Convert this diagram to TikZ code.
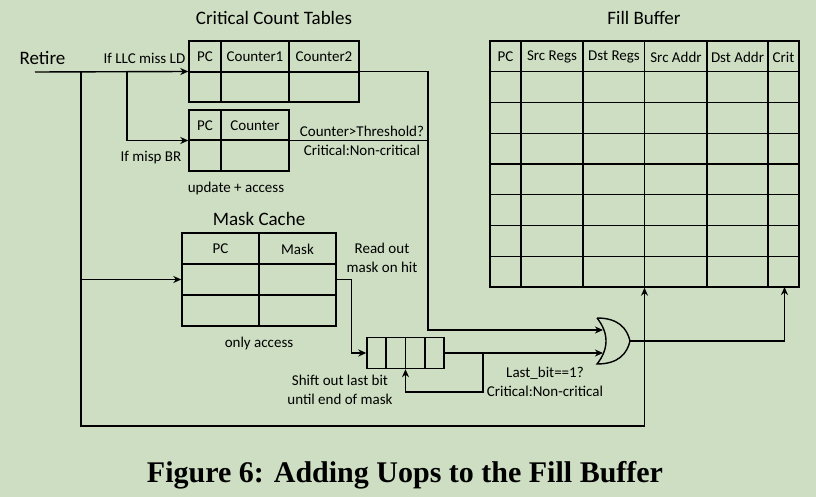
\documentclass[tikz,border=0pt]{standalone}
\usepackage{fontspec}
\setmainfont{Carlito}
\newfontfamily\capfont{Liberation Serif}
\usetikzlibrary{arrows.meta,calc,positioning}
\definecolor{bgreen}{RGB}{206,222,194}

\begin{document}
\begin{tikzpicture}[x=1pt,y=-1pt,line width=1.4pt,
	lbl/.style={font=\fontsize{15}{19}\selectfont,inner sep=0pt,align=center},
	ttl/.style={font=\fontsize{19}{23}\selectfont,inner sep=0pt},
	tbl/.style={draw,inner sep=0pt},
	arr/.style={-{Stealth[length=8pt,width=7pt,inset=2.5pt]}}]
					\useasboundingbox (0,0) rectangle (816,497);
					\fill[bgreen] (0,0) rectangle (816,497);
					%TABLES
					\node[tbl,minimum width=170,minimum height=61] (cnt1) at (274,71.5) {};
					\draw (189,72) -- (359,72) (221,41) -- (221,102) (289,41) -- (289,102);
					\node[tbl,minimum width=100,minimum height=61] (cnt2) at (239,140.5) {};
					\draw (189,140) -- (289,140) (221,110) -- (221,171);
					\node[tbl,minimum width=154,minimum height=93] (mask) at (259,279.5) {};
					\draw (182,264) -- (336,264) (182,295) -- (336,295) (259,233) -- (259,326);
					\node[tbl,minimum width=77,minimum height=31] (shift) at (405.5,353) {};
					\foreach \x in {386,405.5,425} \draw (\x,337.5) -- (\x,368.5);
					\node[tbl,minimum width=309,minimum height=246] (fill) at (644.5,164) {};
					\foreach \x in {521,583,644.5,707,768} \draw (\x,41) -- (\x,287);
					\foreach \i in {1,...,7} \draw (490,41+30.75*\i) -- (799,41+30.75*\i);
					%HEADERS
					\foreach \x/\t in {205/PC,255/Counter1,324/Counter2} \node[lbl] at (\x,57) {\t};
					\foreach \x/\t in {205/PC,255/Counter} \node[lbl] at (\x,126) {\t};
					\foreach \x/\t in {220.5/PC,297.5/Mask} \node[lbl] at (\x,249) {\t};
					\foreach \x/\t in {505.5/PC,552/Src Regs,614/Dst Regs,676/Src Addr,737.5/Dst Addr,783.5/Crit} \node[lbl] at (\x,57) {\t};
					\node[ttl] (cctitle) at (274,18) {Critical Count Tables};
					\node[ttl] (fbtitle) at (644,18) {Fill Buffer};
					\node[ttl] (mctitle) at (259,219) {Mask Cache};
					%OR GATE
					\draw (597,318) .. controls (609,333) and (609,349) .. (597,364)
						.. controls (618,364) and (627,354) .. (630,341)
						.. controls (627,328) and (618,318) .. (597,318);
					\coordinate (or1) at (603,330);
					\coordinate (or2) at (603,353);
					\coordinate (orout) at (630,341);
					%WIRES
					\coordinate (ret) at (35,72);
					\node[ttl] (rettext) at (42.5,58) {Retire};
					\coordinate (j1) at (81,72);
					\coordinate (j2) at (127,72);
					\coordinate (bl) at (81,426);
					\coordinate (bend) at (428,330);
					\coordinate (fb) at (483,353);
					\coordinate (critin) at (784.5,287);
					\draw[arr] (ret) -- (cnt1.west);
					\draw[arr] (j2) |- (cnt2.west);
					\draw[arr] (j1 |- mask.west) -- (mask.west);
					\draw[arr] (j1) -- (bl) -| (fill.south);
					\draw[arr] (cnt1.east) -| (bend) -- (or1);
					\draw (cnt2.east) -- (cnt2.east -| bend);
					\draw[arr] (mask.east) -- ++(15,0) |- (shift.west);
					\draw[arr] (shift.east) -- (or2);
					\draw[arr] (fb) -- ++(0,39) -| (shift.south);
					\draw[arr] (orout) -| (critin);
					%LABELS
					\node[lbl,anchor=east] at (186,58) {If LLC miss LD};
					\node[lbl] at (151,158) {If misp BR};
					\node[lbl] at (236,189) {update + access};
					\node[lbl] at (362,141) {Counter>Threshold?\\Critical:Non-critical};
					\node[lbl] at (382,258) {Read out\\mask on hit};
					\node[lbl] at (259,343) {only access};
					\node[lbl] at (340,390) {Shift out last bit\\until end of mask};
					\node[lbl] at (545,381.5) {Last\_bit==1?\\Critical:Non-critical};
					\node[inner sep=0pt,font=\capfont\bfseries\fontsize{30}{34}\selectfont] (cap) at (405,475) {Figure 6: Adding Uops to the Fill Buffer};
\end{tikzpicture}
\end{document}
